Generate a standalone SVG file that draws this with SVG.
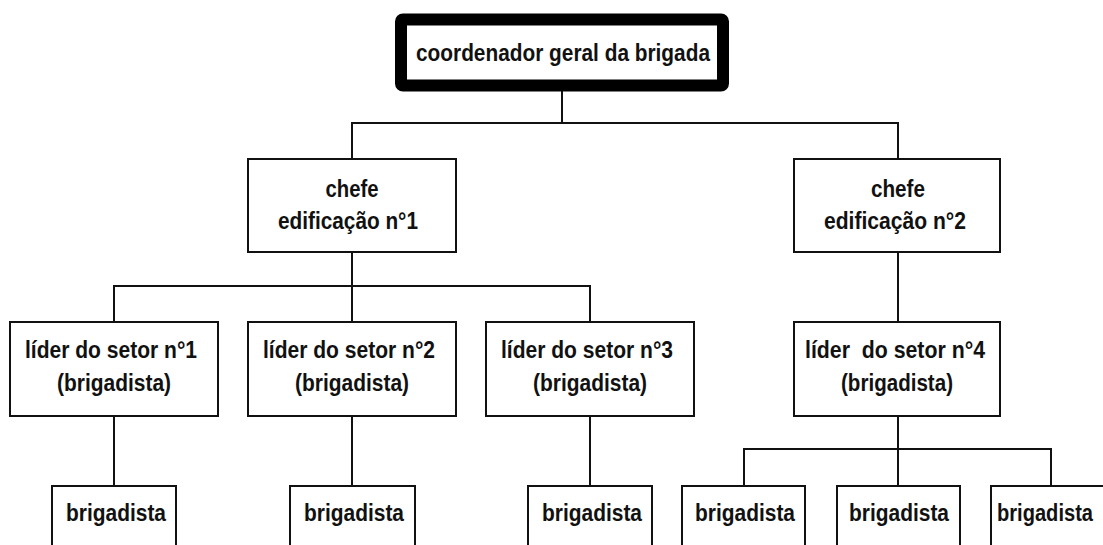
<svg xmlns="http://www.w3.org/2000/svg" width="1103" height="545" viewBox="0 0 1103 545">
<style>
.box{fill:#fff;stroke:#111;stroke-width:2}
.top{fill:#fff;stroke:#000;stroke-width:12;stroke-linejoin:round}
.t{font-family:"Liberation Sans",Arial,sans-serif;font-weight:bold;font-size:23px;fill:#111;text-anchor:middle}
.c line{stroke:#111;stroke-width:2;stroke-linecap:square}
</style>
<rect width="1103" height="545" fill="#fff"/>
<g class="c" id="connectors">
<line x1="562" y1="92" x2="562" y2="123"/>
<line x1="352" y1="123" x2="898" y2="123"/>
<line x1="352" y1="123" x2="352" y2="159"/>
<line x1="898" y1="123" x2="898" y2="159"/>
<line x1="352" y1="252" x2="352" y2="286"/>
<line x1="114" y1="286" x2="590" y2="286"/>
<line x1="114" y1="286" x2="114" y2="322"/>
<line x1="590" y1="286" x2="590" y2="322"/>
<line x1="352" y1="286" x2="352" y2="322"/>
<line x1="898" y1="252" x2="898" y2="322"/>
<line x1="114" y1="416" x2="114" y2="486"/>
<line x1="352" y1="416" x2="352" y2="486"/>
<line x1="590" y1="416" x2="590" y2="486"/>
<line x1="898" y1="416" x2="898" y2="449"/>
<line x1="744" y1="449" x2="1051" y2="449"/>
<line x1="744" y1="449" x2="744" y2="486"/>
<line x1="898" y1="449" x2="898" y2="486"/>
<line x1="1051" y1="449" x2="1051" y2="486"/>
</g>
<g id="coordenador">
<rect class="top" x="401" y="19.5" width="322" height="66" rx="2"/>
<text class="t" x="563" y="61" font-size="24" textLength="294" lengthAdjust="spacingAndGlyphs">coordenador geral da brigada</text>
</g>
<g id="chefe1">
<rect class="box" x="248" y="159" width="208" height="93"/>
<text class="t" x="352" y="197" textLength="53" lengthAdjust="spacingAndGlyphs">chefe</text>
<text class="t" x="348" y="229" textLength="140" lengthAdjust="spacingAndGlyphs">edificação n°1</text>
</g>
<g id="chefe2">
<rect class="box" x="794" y="159" width="206" height="93"/>
<text class="t" x="898" y="197" textLength="54" lengthAdjust="spacingAndGlyphs">chefe</text>
<text class="t" x="895" y="229" textLength="142" lengthAdjust="spacingAndGlyphs">edificação n°2</text>
</g>
<g id="lider1">
<rect class="box" x="10" y="322" width="208" height="94"/>
<text class="t" x="111" y="358" textLength="172" lengthAdjust="spacingAndGlyphs">líder do setor n°1</text>
<text class="t" x="114" y="391" textLength="114" lengthAdjust="spacingAndGlyphs">(brigadista)</text>
</g>
<g id="lider2">
<rect class="box" x="248" y="322" width="208" height="94"/>
<text class="t" x="349" y="358" textLength="172" lengthAdjust="spacingAndGlyphs">líder do setor n°2</text>
<text class="t" x="352" y="391" textLength="114" lengthAdjust="spacingAndGlyphs">(brigadista)</text>
</g>
<g id="lider3">
<rect class="box" x="486" y="322" width="208" height="94"/>
<text class="t" x="587" y="358" textLength="172" lengthAdjust="spacingAndGlyphs">líder do setor n°3</text>
<text class="t" x="590" y="391" textLength="114" lengthAdjust="spacingAndGlyphs">(brigadista)</text>
</g>
<g id="lider4">
<rect class="box" x="794" y="322" width="206" height="94"/>
<text class="t" x="895" y="358" textLength="180" lengthAdjust="spacingAndGlyphs" xml:space="preserve">líder  do setor n°4</text>
<text class="t" x="897" y="391" textLength="112" lengthAdjust="spacingAndGlyphs">(brigadista)</text>
</g>
<g id="brig1">
<path class="box" d="M52,545V486H176V545"/>
<text class="t" x="116" y="521" textLength="100" lengthAdjust="spacingAndGlyphs">brigadista</text>
</g>
<g id="brig2">
<path class="box" d="M290,545V486H415V545"/>
<text class="t" x="354" y="521" textLength="100" lengthAdjust="spacingAndGlyphs">brigadista</text>
</g>
<g id="brig3">
<path class="box" d="M528,545V486H652V545"/>
<text class="t" x="592" y="521" textLength="100" lengthAdjust="spacingAndGlyphs">brigadista</text>
</g>
<g id="brig4">
<path class="box" d="M682,545V486H805V545"/>
<text class="t" x="745" y="521" textLength="100" lengthAdjust="spacingAndGlyphs">brigadista</text>
</g>
<g id="brig5">
<path class="box" d="M837,545V486H960V545"/>
<text class="t" x="899" y="521" textLength="100" lengthAdjust="spacingAndGlyphs">brigadista</text>
</g>
<g id="brig6">
<path class="box" d="M991,545V486H1103"/>
<text class="t" x="1045" y="521" font-size="21" textLength="96" lengthAdjust="spacingAndGlyphs">brigadista</text>
</g>
</svg>
